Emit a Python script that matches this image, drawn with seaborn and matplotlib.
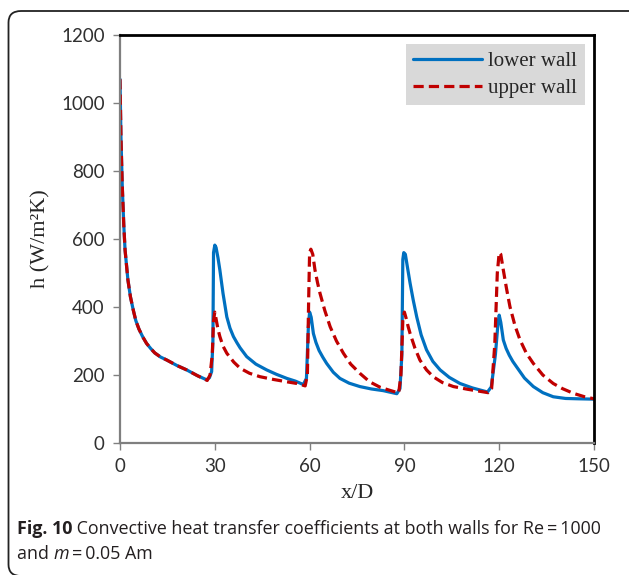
import matplotlib
matplotlib.use("Agg")
import matplotlib.pyplot as plt
import seaborn as sns
import pandas as pd
from matplotlib.patches import FancyBboxPatch

# values
x_lower = [0, 0.3, 0.7, 1.2, 1.6, 2.5, 3.3, 4.2, 5, 6, 7.2, 8.4, 9.7, 11, 12.8, 14.8,
           18, 21.1, 24.5, 27.4, 28.3, 29.0, 29.4, 29.6, 30.0, 30.4, 31.0, 31.6, 32.6,
           33.8, 34.8, 35.9, 37, 38, 40.1, 43, 46.4, 49.5, 52.8, 55.5, 58.0, 59.0, 59.6,
           60.0, 60.5, 61.2, 62, 63, 64.2, 65.4, 67.5, 69.6, 72.5, 75.9, 79.5, 83.3,
           87.6, 88.6, 89.2, 89.5, 89.8, 90.3, 91.0, 91.8, 92.8, 93.9, 95.3, 97, 99,
           101.3, 104.2, 107.6, 111.5, 116.3, 117.5, 118.8, 119.6, 120.0, 120.5, 121.3,
           122.2, 123.2, 124.3, 125.5, 128, 130.8, 133.8, 137.1, 141, 145, 150]
h_lower = [1070, 900, 760, 640, 568, 480, 430, 391, 360, 335, 312, 293, 278, 265, 253,
           244, 228, 215, 198, 186, 192, 210, 300, 560, 582, 575, 545, 509, 440, 371,
           338, 313, 295, 280, 254, 232, 215, 202, 190, 182, 172, 190, 340, 385, 370,
           322, 296, 272, 252, 234, 208, 190, 176, 166, 159, 154, 145, 160, 260, 540,
           560, 555, 515, 470, 420, 371, 318, 274, 240, 215, 193, 175, 162, 150, 165,
           260, 350, 376, 355, 303, 278, 258, 240, 224, 191, 166, 148, 136, 131, 130,
           129]

x_upper = [0, 0.3, 0.7, 1.2, 1.6, 2.5, 3.3, 4.2, 5, 6, 7.2, 8.4, 9.7, 11, 12.8, 14.8,
           18, 21.1, 24.5, 27.6, 28.5, 29.2, 29.6, 30.0, 30.5, 31.0, 31.6, 32.6, 33.8,
           36, 38, 41, 44.3, 48.5, 52.8, 56, 58.6, 59.3, 59.7, 60.0, 60.4, 61.0, 61.7,
           62.5, 63.3, 64.8, 66.5, 68.5, 70.7, 73, 75.9, 79, 82.3, 85, 88.2, 88.9, 89.5,
           90.0, 90.6, 91.2, 91.8, 93.3, 94.9, 97, 99.1, 102, 105.5, 110, 116.5, 117.6,
           118.6, 119.4, 120.0, 120.5, 121.3, 122.3, 123.4, 125, 126.6, 128.6, 130.8,
           133.8, 137.1, 140, 143.5, 147, 150]
h_upper = [1070, 900, 760, 640, 568, 480, 430, 391, 360, 335, 312, 293, 278, 265, 253,
           244, 228, 215, 198, 184, 200, 260, 360, 385, 360, 335, 313, 285, 264, 238,
           220, 205, 195, 187, 180, 175, 168, 200, 420, 560, 570, 555, 509, 472, 440,
           390, 342, 300, 264, 232, 205, 180, 164, 156, 147, 200, 360, 385, 365, 342,
           322, 280, 244, 215, 195, 178, 166, 158, 148, 160, 290, 500, 560, 555, 509,
           455, 401, 345, 303, 264, 234, 200, 175, 160, 146, 136, 130]

y_ticks = [0, 200, 400, 600, 800, 1000, 1200]
x_ticks = [0, 30, 60, 90, 120, 150]

lower = pd.DataFrame({"x/D": x_lower, "h": h_lower})
upper = pd.DataFrame({"x/D": x_upper, "h": h_upper})

sns.set_style("white")
plt.rcParams["font.family"] = ["Liberation Serif", "DejaVu Serif"]

fig = plt.figure(figsize=(6.29, 5.75), dpi=100)
ax = fig.add_axes([120 / 629, 1 - 443 / 575, (594 - 120) / 629, (443 - 35) / 575])

sns.lineplot(data=lower, x="x/D", y="h", ax=ax, color="#0070c0", lw=2.3,
             sort=False, estimator=None, label="lower wall")
sns.lineplot(data=upper, x="x/D", y="h", ax=ax, color="#c00000", lw=2.3,
             sort=False, estimator=None, label="upper wall")
ax.lines[1].set_dashes([3.2, 1.6])

ax.set_xlim(0, 150)
ax.set_ylim(0, 1200)
ax.set_xticks(x_ticks)
ax.set_yticks(y_ticks)
tick_font = {"family": ["Lato", "DejaVu Sans"], "size": 13.5}
ax.set_xticklabels([str(t) for t in x_ticks], fontdict=tick_font)
ax.set_yticklabels([str(t) for t in y_ticks], fontdict=tick_font)
ax.tick_params(axis="both", direction="out", length=5, width=1, color="#808080",
               bottom=True, left=True, labelcolor="#303030", pad=6)
ax.set_xlabel("x/D", fontsize=16, labelpad=6)
ax.set_ylabel("h (W/m\u00b2K)", fontsize=16, labelpad=8)

for side in ["top", "right"]:
    ax.spines[side].set_color("black")
    ax.spines[side].set_linewidth(2)
for side in ["left", "bottom"]:
    ax.spines[side].set_color("#7f7f7f")
    ax.spines[side].set_linewidth(1.6)

leg = ax.legend(loc="upper right", fontsize=15, handlelength=3.3, handletextpad=0.3,
                frameon=True, fancybox=False, borderaxespad=0.45,
                borderpad=0.35, labelspacing=0.35)
leg.get_frame().set_facecolor("#d9d9d9")
leg.get_frame().set_edgecolor("none")
leg.get_frame().set_alpha(1)
leg.get_lines()[1].set_dashes([3.2, 1.6])

# rounded frame round the whole figure (bottom edge sits at the image edge)
box = FancyBboxPatch((8.5 / 629, 1 - 576 / 575), 640 / 629, (576 - 11) / 575,
                     boxstyle="round,pad=0,rounding_size=0.02",
                     transform=fig.transFigure, fill=False, lw=1.3,
                     edgecolor="#222222", clip_on=False)
fig.patches.append(box)

# caption, drawn piece by piece
cap_font = ["Open Sans", "DejaVu Sans"]
fig.canvas.draw()
renderer = fig.canvas.get_renderer()


def put(parts, x_px, y_px):
    x = x_px / 629
    for text, weight, style in parts:
        t = fig.text(x, 1 - y_px / 575, text, fontsize=12.9, family=cap_font,
                     weight=weight, style=style, va="baseline", color="#231f20")
        bb = t.get_window_extent(renderer)
        x = bb.x1 / fig.bbox.width


put([("Fig. 10", "bold", "normal"),
     (" Convective heat transfer coefficients at both walls for Re\u2009=\u20091000", "normal", "normal")],
    17, 534)
put([("and ", "normal", "normal"), ("m", "normal", "italic"),
     ("\u2009=\u20090.05 Am", "normal", "normal")], 17, 559)

fig.savefig("out.png", dpi=100)
